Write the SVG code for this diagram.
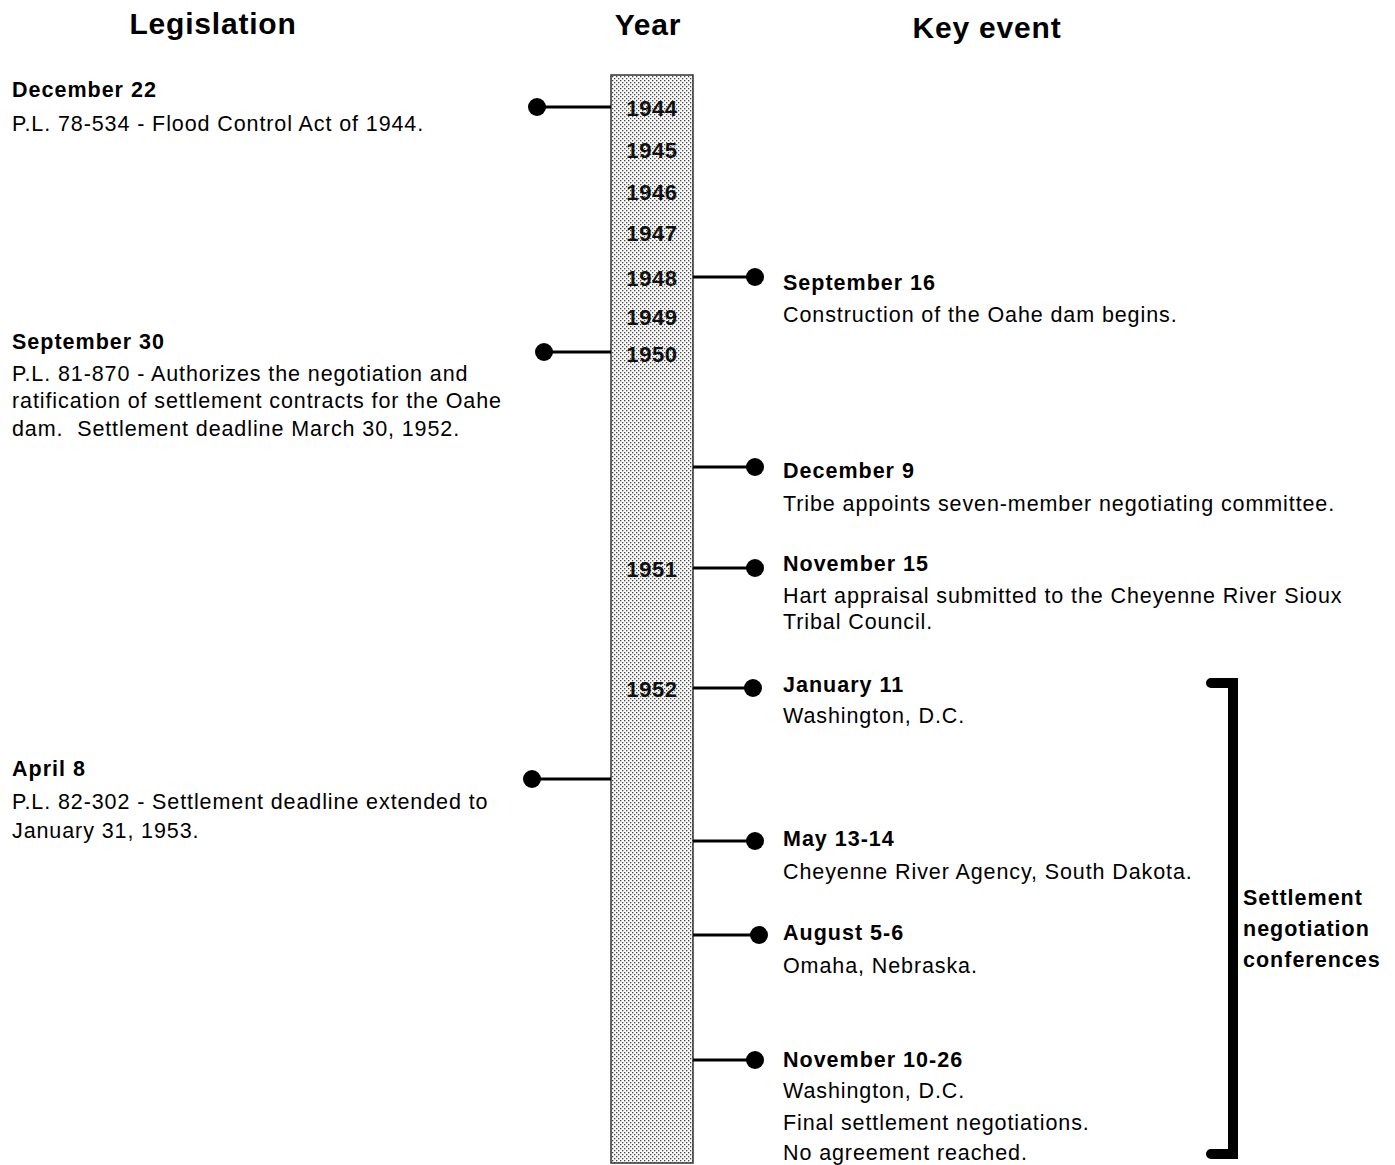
<svg xmlns="http://www.w3.org/2000/svg" width="1395" height="1165" viewBox="0 0 1395 1165">
<style>
.h{font-family:"Liberation Sans",Arial,sans-serif;font-weight:bold;font-size:30px;letter-spacing:0.8px;fill:#000;text-anchor:middle}
.b{font-family:"Liberation Sans",Arial,sans-serif;font-weight:bold;font-size:21.5px;letter-spacing:1px;fill:#000}
.t{font-family:"Liberation Sans",Arial,sans-serif;font-size:21.5px;letter-spacing:0.9px;fill:#000}
.y{font-family:"Liberation Sans",Arial,sans-serif;font-weight:bold;font-size:22px;letter-spacing:0.6px;fill:#111;text-anchor:middle}
.c line{stroke:#000;stroke-width:3}
.c circle{fill:#000}
</style>
<defs>
<pattern id="dots" width="4" height="4" patternUnits="userSpaceOnUse">
<rect width="4" height="4" fill="#fafafa"/>
<rect x="0" y="0" width="1.3" height="1.3" fill="#444"/>
<rect x="2" y="2" width="1.3" height="1.3" fill="#444"/>
</pattern>
</defs>
<text class="h" x="213" y="34">Legislation</text>
<text class="h" x="648" y="35">Year</text>
<text class="h" x="987" y="38">Key event</text>
<g id="timeline">
<rect x="611" y="75" width="82" height="1088" fill="url(#dots)" stroke="#333" stroke-width="1.5"/>
<text class="y" x="652" y="116">1944</text>
<text class="y" x="652" y="158">1945</text>
<text class="y" x="652" y="200">1946</text>
<text class="y" x="652" y="241">1947</text>
<text class="y" x="652" y="286">1948</text>
<text class="y" x="652" y="325">1949</text>
<text class="y" x="652" y="362">1950</text>
<text class="y" x="652" y="577">1951</text>
<text class="y" x="652" y="697">1952</text>
</g>
<g id="connectors" class="c">
<line x1="537" y1="107" x2="611" y2="107"/><circle cx="537" cy="107" r="9"/>
<line x1="544" y1="352" x2="611" y2="352"/><circle cx="544" cy="352" r="9"/>
<line x1="532" y1="779" x2="611" y2="779"/><circle cx="532" cy="779" r="9"/>
<line x1="693" y1="277" x2="755" y2="277"/><circle cx="755" cy="277" r="9"/>
<line x1="693" y1="467" x2="755" y2="467"/><circle cx="755" cy="467" r="9"/>
<line x1="693" y1="568" x2="755" y2="568"/><circle cx="755" cy="568" r="9"/>
<line x1="693" y1="688" x2="753" y2="688"/><circle cx="753" cy="688" r="9"/>
<line x1="693" y1="841" x2="755" y2="841"/><circle cx="755" cy="841" r="9"/>
<line x1="693" y1="935" x2="759" y2="935"/><circle cx="759" cy="935" r="9"/>
<line x1="693" y1="1060" x2="755" y2="1060"/><circle cx="755" cy="1060" r="9"/>
</g>
<g id="leg-1944">
<text class="b" x="12" y="97">December 22</text>
<text class="t" x="12" y="131">P.L. 78-534 - Flood Control Act of 1944.</text>
</g>
<g id="leg-1950">
<text class="b" x="12" y="349">September 30</text>
<text class="t" x="12" y="381">P.L. 81-870 - Authorizes the negotiation and</text>
<text class="t" x="12" y="408">ratification of settlement contracts for the Oahe</text>
<text class="t" x="12" y="436">dam.&#160; Settlement deadline March 30, 1952.</text>
</g>
<g id="leg-1952">
<text class="b" x="12" y="776">April 8</text>
<text class="t" x="12" y="809">P.L. 82-302 - Settlement deadline extended to</text>
<text class="t" x="12" y="838">January 31, 1953.</text>
</g>
<g id="ev-sep16">
<text class="b" x="783" y="290">September 16</text>
<text class="t" x="783" y="322">Construction of the Oahe dam begins.</text>
</g>
<g id="ev-dec9">
<text class="b" x="783" y="478">December 9</text>
<text class="t" x="783" y="511">Tribe appoints seven-member negotiating committee.</text>
</g>
<g id="ev-nov15">
<text class="b" x="783" y="571">November 15</text>
<text class="t" x="783" y="603">Hart appraisal submitted to the Cheyenne River Sioux</text>
<text class="t" x="783" y="629">Tribal Council.</text>
</g>
<g id="ev-jan11">
<text class="b" x="783" y="692">January 11</text>
<text class="t" x="783" y="723">Washington, D.C.</text>
</g>
<g id="ev-may13">
<text class="b" x="783" y="846">May 13-14</text>
<text class="t" x="783" y="879">Cheyenne River Agency, South Dakota.</text>
</g>
<g id="ev-aug5">
<text class="b" x="783" y="940">August 5-6</text>
<text class="t" x="783" y="973">Omaha, Nebraska.</text>
</g>
<g id="ev-nov10">
<text class="b" x="783" y="1067">November 10-26</text>
<text class="t" x="783" y="1098">Washington, D.C.</text>
<text class="t" x="783" y="1130">Final settlement negotiations.</text>
<text class="t" x="783" y="1160">No agreement reached.</text>
</g>
<g id="bracket">
<path d="M1211 683 H1233 V1154 H1211" fill="none" stroke="#000" stroke-width="10" stroke-linejoin="miter" stroke-linecap="round"/>
<text class="b" x="1243" y="905">Settlement</text>
<text class="b" x="1243" y="936">negotiation</text>
<text class="b" x="1243" y="967">conferences</text>
</g>
</svg>
